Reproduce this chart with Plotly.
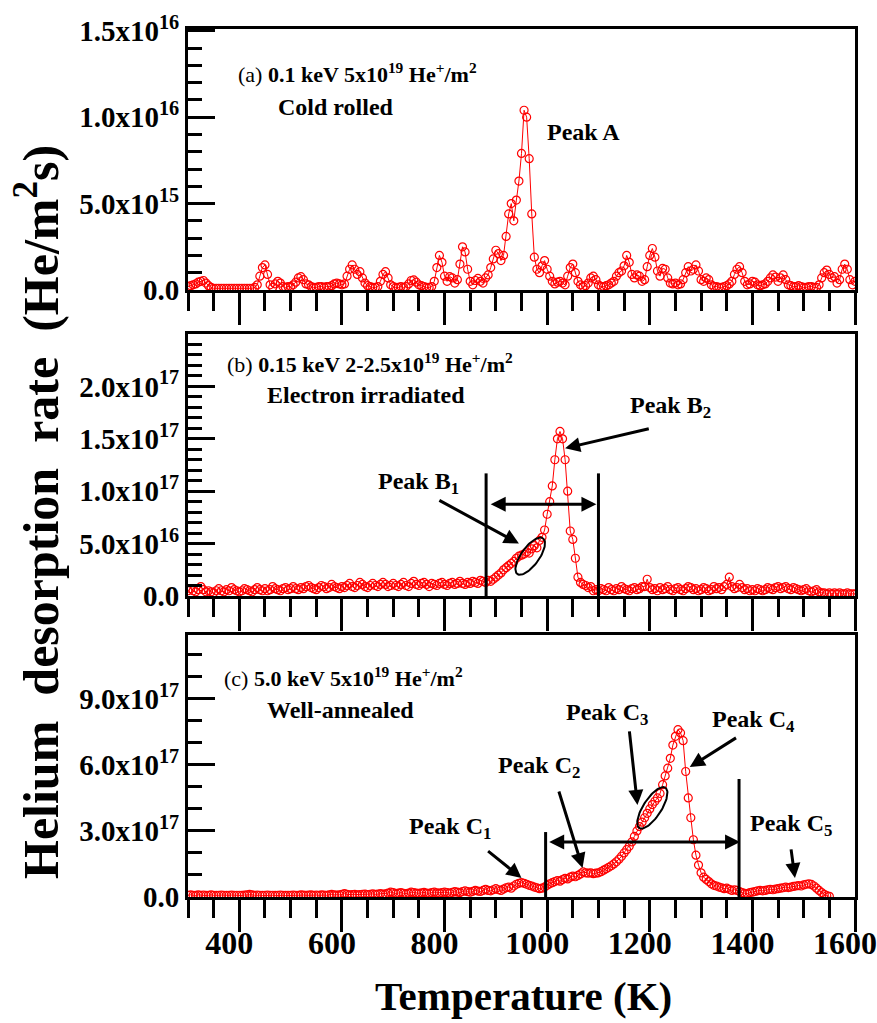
import numpy as np
import plotly.graph_objects as go

# ---------------- data ----------------
# panel (a): Cold rolled, 0.1 keV  (values in units of 1e15 He/m^2 s)
temp_a = list(range(300, 1605, 5))
rate_a_1e15 = [
    0.2, 0.25, 0.3, 0.35, 0.45, 0.5, 0.55, 0.4, 0.25, 0.15, 0.1, 0.1, 0.1, 0.1, 0.1, 0.1, 0.1, 0.1, 0.1, 0.1,
    0.1, 0.1, 0.1, 0.1, 0.1, 0.1, 0.15, 0.3, 0.8, 1.3, 1.45, 0.9, 0.3, 0.15, 0.35, 0.5, 0.4, 0.2, 0.15, 0.2,
    0.2, 0.3, 0.45, 0.7, 0.77, 0.6, 0.35, 0.3, 0.2, 0.15, 0.15, 0.2, 0.2, 0.15, 0.2, 0.2, 0.25, 0.35, 0.4, 0.35,
    0.3, 0.35, 0.8, 1.2, 1.45, 1.2, 0.9, 1.06, 0.7, 0.4, 0.25, 0.2, 0.15, 0.15, 0.2, 0.5, 0.9, 1.06, 0.7, 0.3,
    0.2, 0.15, 0.15, 0.2, 0.15, 0.2, 0.35, 0.55, 0.58, 0.45, 0.3, 0.25, 0.2, 0.15, 0.15, 0.2, 0.5, 1.3, 2.0, 1.6,
    0.8, 0.5, 0.77, 0.7, 0.4, 0.6, 1.5, 2.5, 2.2, 1.2, 0.5, 0.3, 0.55, 0.67, 0.5, 0.4, 0.7, 0.87, 1.3, 1.8,
    2.3, 2.1, 1.7, 2.0, 3.1, 4.4, 5.0, 4.0, 5.2, 6.3, 7.9, 10.4, 10.0, 7.6, 4.4, 1.9, 1.2, 1.0, 1.4, 1.7,
    1.2, 0.8, 0.5, 0.35, 0.45, 0.5, 0.4, 0.3, 0.8, 1.3, 1.5, 1.0, 0.5, 0.3, 0.2, 0.25, 0.4, 0.7, 0.8, 0.6,
    0.3, 0.2, 0.2, 0.25, 0.3, 0.4, 0.5, 0.8, 1.0, 1.1, 1.4, 2.0, 1.6, 0.9, 0.7, 0.87, 0.8, 0.5, 0.6, 1.35,
    2.0, 2.4, 1.9, 1.1, 0.8, 1.25, 1.2, 0.7, 0.4, 0.35, 0.4, 0.3, 0.35, 0.6, 1.0, 1.35, 1.1, 1.2, 1.45, 1.1,
    0.6, 0.5, 0.7, 0.6, 0.3, 0.2, 0.2, 0.15, 0.15, 0.2, 0.25, 0.35, 0.5, 0.9, 1.2, 1.35, 1.0, 0.5, 0.3, 0.35,
    0.5, 0.45, 0.3, 0.25, 0.3, 0.35, 0.5, 0.7, 0.87, 0.75, 0.5, 0.7, 0.87, 0.6, 0.3, 0.25, 0.2, 0.2, 0.25, 0.2,
    0.15, 0.15, 0.2, 0.2, 0.15, 0.15, 0.3, 0.7, 1.0, 1.15, 0.9, 0.7, 0.77, 0.4, 0.6, 1.2, 1.5, 1.2, 0.6, 0.3,
    0.5,
]

# panel (b): Electron irradiated, 0.15 keV (values in units of 1e16)
temp_b = list(range(300, 1605, 5))
rate_b_1e16 = [
    0.5, 0.7, 0.5, 0.4, 0.6, 0.9, 0.6, 0.4, 0.5, 0.4, 0.3, 0.5, 0.7, 0.5, 0.4, 0.6, 0.5, 0.8, 0.6, 0.5,
    0.4, 0.5, 0.7, 0.6, 0.5, 0.4, 0.6, 0.8, 0.6, 0.5, 0.7, 0.5, 0.6, 0.9, 0.7, 0.6, 0.5, 0.7, 0.8, 0.6,
    0.7, 0.9, 0.7, 0.6, 0.8, 0.7, 0.9, 1.0, 0.8, 0.7, 0.6, 0.8, 1.0, 0.9, 0.7, 0.8, 1.1, 0.9, 0.8, 0.7,
    0.9, 0.8, 1.0, 1.2, 0.9, 0.8, 1.0, 1.3, 1.1, 0.9, 0.8, 1.0, 1.2, 1.0, 0.9, 1.1, 1.3, 1.1, 0.9, 1.0,
    1.2, 1.0, 0.9, 1.1, 1.3, 1.0, 0.9, 1.2, 1.4, 1.1, 1.0, 1.2, 1.3, 1.1, 0.9, 1.2, 1.1, 1.0, 1.2, 1.3,
    1.1, 1.0, 1.2, 1.3, 1.1, 1.2, 1.4, 1.2, 1.1, 1.3, 1.2, 1.4, 1.3, 1.2, 1.5, 1.4, 1.3, 1.5, 1.4, 1.6,
    1.8, 2.0, 2.2, 2.5, 2.7, 2.9, 3.1, 3.3, 3.6, 3.8, 3.9, 4.0, 4.2, 4.1, 4.5, 4.8, 4.6, 5.3, 5.6, 6.3,
    7.8, 9.0, 10.5, 13.0, 15.0, 15.7, 15.0, 13.0, 10.0, 6.2, 5.4, 3.6, 1.8, 1.3, 1.1, 1.0, 0.8, 0.9, 0.5, 0.6,
    0.5, 0.7, 0.6, 0.5, 0.8, 0.6, 0.5, 0.7, 0.6, 0.9, 0.7, 0.6, 0.5, 0.7, 0.8, 0.6, 0.7, 0.9, 0.9, 1.6,
    0.8, 0.6, 0.7, 0.5, 0.8, 0.6, 0.7, 0.9, 0.6, 0.5, 0.7, 0.8, 0.6, 0.5, 0.7, 0.9, 0.8, 0.6, 0.7, 0.5,
    0.6, 0.8, 0.7, 0.5, 0.6, 0.9, 0.7, 0.8, 0.6, 0.9, 1.1, 1.8, 0.9, 0.7, 0.8, 1.1, 0.8, 0.6, 0.7, 0.5,
    0.6, 0.5, 0.7, 0.6, 0.5, 0.6, 0.8, 0.7, 0.6, 0.8, 0.9, 0.7, 0.8, 0.9, 0.7, 0.6, 0.8, 0.7, 0.6, 0.5,
    0.6, 0.7, 0.5, 0.4, 0.5, 0.6, 0.4, 0.3, 0.3, 0.2, 0.3, 0.2, 0.3, 0.2, 0.3, 0.2, 0.2, 0.3, 0.2, 0.2,
    0.2,
]

# panel (c): Well-annealed, 5.0 keV (values in units of 1e17)
temp_c = list(range(300, 1555, 5))
rate_c_1e17 = [
    0.08, 0.1, 0.08, 0.07, 0.1, 0.08, 0.09, 0.07, 0.08, 0.1, 0.08, 0.07, 0.08, 0.09, 0.08, 0.07, 0.08, 0.09, 0.08, 0.08,
    0.08, 0.07, 0.09, 0.1, 0.12, 0.1, 0.08, 0.09, 0.08, 0.07, 0.08, 0.09, 0.08, 0.08, 0.07, 0.08, 0.09, 0.08, 0.07, 0.08,
    0.08, 0.09, 0.08, 0.08, 0.1, 0.09, 0.08, 0.09, 0.1, 0.08, 0.09, 0.08, 0.1, 0.09, 0.08, 0.1, 0.12, 0.1, 0.09, 0.1,
    0.12, 0.15, 0.12, 0.1, 0.11, 0.12, 0.1, 0.11, 0.12, 0.13, 0.11, 0.12, 0.14, 0.12, 0.13, 0.15, 0.13, 0.14, 0.18, 0.22,
    0.2, 0.16, 0.18, 0.2, 0.17, 0.15, 0.18, 0.22, 0.2, 0.18, 0.17, 0.19, 0.21, 0.18, 0.17, 0.2, 0.22, 0.19, 0.18, 0.2,
    0.22, 0.2, 0.18, 0.21, 0.24, 0.22, 0.2, 0.25, 0.28, 0.24, 0.22, 0.26, 0.3, 0.27, 0.25, 0.3, 0.35, 0.3, 0.28, 0.33,
    0.38, 0.33, 0.3, 0.36, 0.42, 0.45, 0.4, 0.5, 0.58, 0.62, 0.65, 0.62, 0.58, 0.53, 0.5, 0.45, 0.42, 0.38, 0.4, 0.45,
    0.53, 0.6, 0.65, 0.7, 0.75, 0.72, 0.79, 0.85, 0.82, 0.9, 0.95, 0.92, 0.98, 1.05, 1.14, 1.1, 1.08, 1.1, 1.06, 1.08,
    1.1, 1.15, 1.22, 1.28, 1.35, 1.42, 1.5, 1.6, 1.72, 1.85, 2.0, 2.15, 2.3, 2.5, 2.75, 3.0, 3.2, 3.4, 3.6, 3.8,
    4.0, 4.2, 4.35, 4.5, 4.7, 5.1, 5.5, 5.85, 6.3, 6.9, 7.3, 7.6, 7.45, 7.1, 5.7, 4.5, 3.6, 2.6, 1.9, 1.45,
    1.1, 0.9, 0.8, 0.7, 0.6, 0.53, 0.5, 0.45, 0.42, 0.38, 0.4, 0.35, 0.3, 0.33, 0.3, 0.25, 0.2, 0.17, 0.15, 0.2,
    0.22, 0.25, 0.28, 0.3, 0.28, 0.3, 0.33, 0.35, 0.33, 0.36, 0.38, 0.4, 0.42, 0.45, 0.43, 0.45, 0.48, 0.5, 0.52, 0.5,
    0.55, 0.58, 0.6, 0.57, 0.5, 0.4, 0.3, 0.2, 0.12, 0.06, 0.03,
]

x_tickvals = [400, 600, 800, 1000, 1200, 1400, 1600]
y_ticks_a = [0, 5e15, 1e16, 1.5e16]
y_text_a = ["0.0", "5.0x10<sup>15</sup>", "1.0x10<sup>16</sup>", "1.5x10<sup>16</sup>"]
y_ticks_b = [0, 5e16, 1e17, 1.5e17, 2e17]
y_text_b = ["0.0", "5.0x10<sup>16</sup>", "1.0x10<sup>17</sup>", "1.5x10<sup>17</sup>", "2.0x10<sup>17</sup>"]
y_ticks_c = [0, 3e17, 6e17, 9e17]
y_text_c = ["0.0", "3.0x10<sup>17</sup>", "6.0x10<sup>17</sup>", "9.0x10<sup>17</sup>"]

rate_a = [v * 1e15 for v in rate_a_1e15]
rate_b = [v * 1e16 for v in rate_b_1e16]
rate_c = [v * 1e17 for v in rate_c_1e17]

# ---------------- figure ----------------
W, H = 877, 1023
FONT = "Liberation Serif, Times New Roman, serif"
RED = "#ff0000"

fig = go.Figure()

def add_series(x, y, xa, ya):
    fig.add_trace(go.Scatter(
        x=x, y=y, xaxis=xa, yaxis=ya, mode="lines+markers",
        line=dict(color=RED, width=1),
        marker=dict(symbol="circle-open", size=8, color=RED, line=dict(width=1.2, color=RED)),
        showlegend=False, hoverinfo="skip"))

add_series(temp_a, rate_a, "x", "y")
add_series(temp_b, rate_b, "x2", "y2")
add_series(temp_c, rate_c, "x3", "y3")

# ellipses (decoration), built in pixel units and converted to data units
def ellipse(xa, ya, tc, vc, a_px, b_px, ux, uy, k_x, k_y):
    t = np.linspace(0, 2 * np.pi, 80)
    nx, ny = -uy, ux
    px = a_px * np.cos(t) * ux + b_px * np.sin(t) * nx
    py = a_px * np.cos(t) * uy + b_px * np.sin(t) * ny
    fig.add_trace(go.Scatter(x=tc + px * k_x, y=vc + py * k_y, xaxis=xa, yaxis=ya,
                             mode="lines", line=dict(color="black", width=2),
                             showlegend=False, hoverinfo="skip"))

KX = 1300 / 667.0
ellipse("x2", "y2", 967, 3.8e16, 22, 9, 0.585, 0.811, KX, 2.5e17 / 262)
ellipse("x3", "y3", 1205, 4.05e17, 24, 9, 0.545, 0.839, KX, 1.19e18 / 262)

xdom = [188 / W, 855 / W]
def ydom(top, bottom):
    return [1 - bottom / H, 1 - top / H]

axis_common = dict(showline=True, linewidth=3, linecolor="black", mirror=True,
                   showgrid=False, zeroline=False)

def xaxis_cfg(anchor, labels):
    return dict(axis_common, domain=xdom, anchor=anchor, range=[300, 1600],
                tickmode="array", tickvals=x_tickvals,
                ticks="outside", ticklen=32, tickwidth=3, tickcolor="black",
                showticklabels=labels, ticklabelshift=-10, ticklabelstandoff=-16,
                ticklabeloverflow="allow",
                tickfont=dict(family=FONT, size=32, color="black", weight="bold"),
                minor=dict(ticks="outside", ticklen=18, tickwidth=3, tickcolor="black",
                           tickmode="linear", tick0=300, dtick=50))

def yaxis_cfg(anchor, dom, rng, tv, tt, mdt):
    return dict(axis_common, domain=dom, anchor=anchor, range=rng,
                tickmode="array", tickvals=tv, ticktext=tt,
                ticks="inside", ticklen=27, tickwidth=3, tickcolor="black",
                ticklabeloverflow="allow",
                tickfont=dict(family=FONT, size=29, color="black", weight="bold"),
                minor=dict(ticks="inside", ticklen=14, tickwidth=3, tickcolor="black",
                           tickmode="linear", tick0=0, dtick=mdt))

fig.update_layout(
    width=W, height=H, margin=dict(l=0, r=0, t=0, b=0, autoexpand=False),
    paper_bgcolor="white", plot_bgcolor="white",
    xaxis=xaxis_cfg("y", False),
    xaxis2=xaxis_cfg("y2", False),
    xaxis3=xaxis_cfg("y3", True),
    yaxis=yaxis_cfg("x", ydom(29, 290), [0, 1.51e16], y_ticks_a, y_text_a, 1e15),
    yaxis2=yaxis_cfg("x2", ydom(334, 596), [0, 2.5e17], y_ticks_b, y_text_b, 1e16),
    yaxis3=yaxis_cfg("x3", ydom(635, 897), [0, 1.19e18], y_ticks_c, y_text_c, 1e17),
)

ann = []
def text(xa, ya, x, y, s, size=24):
    ann.append(dict(xref=xa, yref=ya, x=x, y=y, text=s, showarrow=False,
                    xanchor="left", yanchor="middle",
                    font=dict(family=FONT, size=size, color="black")))

def arrow(xa, ya, x_head, y_head, x_tail, y_tail, both=False):
    d = dict(xref=xa, yref=ya, axref=xa, ayref=ya, x=x_head, y=y_head, ax=x_tail, ay=y_tail,
             text="", showarrow=True, arrowhead=2, arrowsize=1, arrowwidth=3, arrowcolor="black")
    if both:
        d.update(arrowside="end+start", startarrowhead=2, startarrowsize=1)
    ann.append(d)

# panel a
text("x", "y", 393, 1.254e16, "(a) <b>0.1 keV 5x10<sup>19</sup> He<sup>+</sup>/m<sup>2</sup></b>", 22)
text("x", "y", 472, 1.058e16, "<b>Cold rolled</b>")
text("x", "y", 996, 9.13e15, "<b>Peak A</b>")

# panel b
text("x2", "y2", 373, 2.22e17, "(b) <b>0.15 keV 2-2.5x10<sup>19</sup> He<sup>+</sup>/m<sup>2</sup></b>", 22)
text("x2", "y2", 451, 1.92e17, "<b>Electron irradiated</b>")
text("x2", "y2", 1158, 1.80e17, "<b>Peak B<sub>2</sub></b>")
text("x2", "y2", 666, 1.08e17, "<b>Peak B<sub>1</sub></b>")
arrow("x2", "y2", 1035, 1.41e17, 1201, 1.6e17)
arrow("x2", "y2", 945, 5.0e16, 787, 9.2e16)
arrow("x2", "y2", 1096, 8.76e16, 887, 8.76e16, both=True)

# panel c
text("x3", "y3", 367, 1.0e18, "(c) <b>5.0 keV 5x10<sup>19</sup> He<sup>+</sup>/m<sup>2</sup></b>", 22)
text("x3", "y3", 451, 8.5e17, "<b>Well-annealed</b>")
text("x3", "y3", 1033, 8.3e17, "<b>Peak C<sub>3</sub></b>")
text("x3", "y3", 1318, 8.0e17, "<b>Peak C<sub>4</sub></b>")
text("x3", "y3", 900, 5.9e17, "<b>Peak C<sub>2</sub></b>")
text("x3", "y3", 726, 3.15e17, "<b>Peak C<sub>1</sub></b>")
text("x3", "y3", 1391, 3.25e17, "<b>Peak C<sub>5</sub></b>")
arrow("x3", "y3", 950, 8.6e16, 882, 2.14e17)
arrow("x3", "y3", 1069, 1.32e17, 1022, 4.86e17)
arrow("x3", "y3", 1176, 4.18e17, 1160, 7.59e17)
arrow("x3", "y3", 1278, 5.9e17, 1371, 7.27e17)
arrow("x3", "y3", 1483, 8.6e16, 1475, 2.23e17)
arrow("x3", "y3", 1376, 2.5e17, 1001, 2.5e17, both=True)

# axis titles
ann.append(dict(xref="paper", yref="paper", x=37 / W, y=1 - 512 / H, textangle=-90,
                text="<b>Helium\u00a0 desorption\u00a0 rate\u00a0 (He/m<sup>2</sup>s)</b>",
                showarrow=False, xanchor="center", yanchor="middle",
                font=dict(family=FONT, size=50, color="black")))
ann.append(dict(xref="paper", yref="paper", x=523 / W, y=1 - 996 / H,
                text="<b>Temperature (K)</b>", showarrow=False,
                xanchor="center", yanchor="middle",
                font=dict(family=FONT, size=41, color="black")))

shapes = [
    dict(type="line", xref="x2", yref="y2", x0=881, x1=881, y0=1.17e17, y1=0, line=dict(color="black", width=3)),
    dict(type="line", xref="x2", yref="y2", x0=1100, x1=1100, y0=1.17e17, y1=0, line=dict(color="black", width=3)),
    dict(type="line", xref="x3", yref="y3", x0=997, x1=997, y0=2.95e17, y1=0, line=dict(color="black", width=3)),
    dict(type="line", xref="x3", yref="y3", x0=1374, x1=1374, y0=5.36e17, y1=0, line=dict(color="black", width=3)),
]
fig.update_layout(annotations=ann, shapes=shapes)

fig.write_html("out.html", config={"displayModeBar": False},
               post_script="document.body.style.margin='0';document.body.style.overflow='hidden';")
